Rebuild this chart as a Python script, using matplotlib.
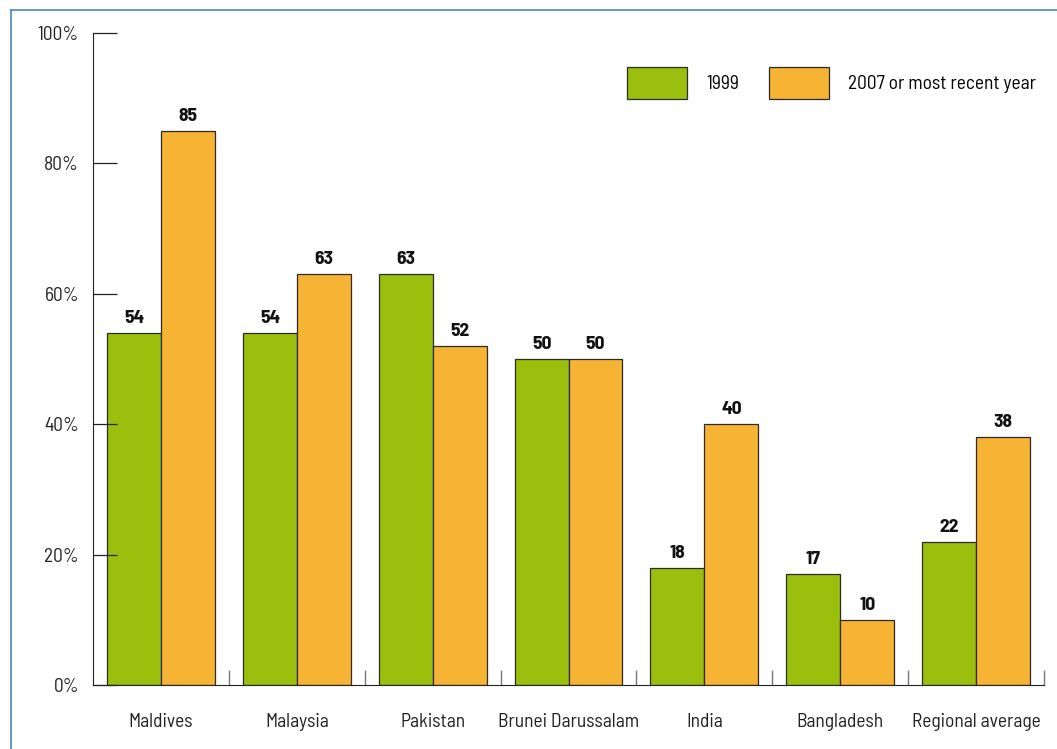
import numpy as np
import matplotlib.pyplot as plt
from matplotlib.lines import Line2D
from matplotlib.patches import Patch

countries = ['Maldives', 'Malaysia', 'Pakistan', 'Brunei Darussalam',
             'India', 'Bangladesh', 'Regional average']
v1999 = [54, 54, 63, 50, 18, 17, 22]
v2007 = [85, 63, 52, 50, 40, 10, 38]
series_names = ['1999', '2007 or most recent year']

green = '#9bbf0d'
orange = '#f7b334'
edge = '#2a2a2a'

plt.rcParams['font.family'] = ['Barlow Semi Condensed', 'Asap Condensed', 'DejaVu Sans']

fig = plt.figure(figsize=(10.57, 7.49), dpi=100)
ax = fig.add_axes([93/1057, 1 - 685/749, (1044 - 93)/1057, (685 - 33)/749])

x = np.arange(len(countries))
w = 0.397
b1 = ax.bar(x - w/2, v1999, w, color=green, edgecolor=edge, linewidth=0.9)
b2 = ax.bar(x + w/2, v2007, w, color=orange, edgecolor=edge, linewidth=0.9)

for bars, vals in ((b1, v1999), (b2, v2007)):
    for r, v in zip(bars, vals):
        ax.text(r.get_x() + r.get_width()/2, v + 0.9, str(v), ha='center', va='bottom',
                fontsize=14, fontweight='bold', color='#111111')

ax.set_xlim(-0.5, len(countries) - 0.5)
ax.set_ylim(0, 100)

ax.spines['top'].set_visible(False)
ax.spines['right'].set_visible(False)
ax.spines['left'].set_color('#222222')
ax.spines['bottom'].set_color('#222222')

ax.set_yticks(np.arange(0, 101, 20))
ax.set_yticklabels([f'{t}%' for t in range(0, 101, 20)], fontsize=14, color='#222222')
ax.tick_params(axis='y', direction='in', length=17, width=0.9, color='#222222', pad=10)

# separator ticks between categories on the x axis
ax.set_xticks(x + 0.5)
ax.set_xticklabels([])
ax.tick_params(axis='x', direction='in', length=10.5, width=1.0, color='#777777')
for xi, name in zip(x, countries):
    ax.text(xi, -4.3, name, ha='center', va='top', fontsize=14, color='#222222')

handles = [Patch(facecolor=green, edgecolor=edge, linewidth=0.9),
           Patch(facecolor=orange, edgecolor=edge, linewidth=0.9)]
leg = ax.legend(handles, series_names, loc='upper right', bbox_to_anchor=(1.0, 0.96),
                ncol=2, frameon=False, fontsize=14, handlelength=3.1, handleheight=2.2,
                handletextpad=1.0, columnspacing=1.5, borderaxespad=0)

# blue frame lines (left and top)
fig.add_artist(Line2D([11/1057, 11/1057], [0, 1 - 10/749], color='#4f86c6', linewidth=1.2))
fig.add_artist(Line2D([11/1057, 1], [1 - 10/749, 1 - 10/749], color='#4f86c6', linewidth=1.2))

fig.savefig('out.png', dpi=100)
